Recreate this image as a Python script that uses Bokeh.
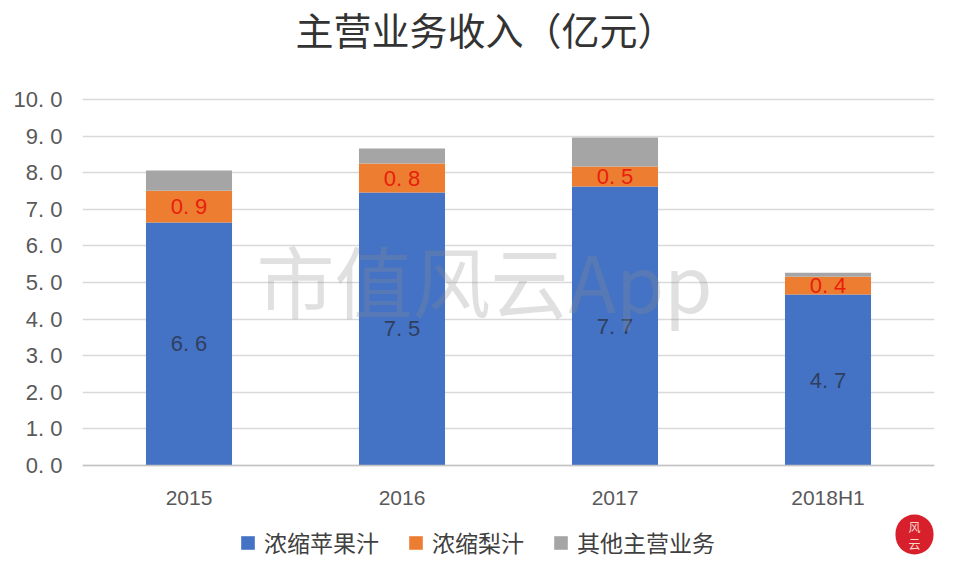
from bokeh.plotting import figure
from bokeh.models import ColumnDataSource, LabelSet, Label, Legend, LegendItem, FixedTicker, Title
from bokeh.core.properties import value
from bokeh.embed import file_html
from bokeh.resources import INLINE
import numpy as np

categories = ["2015", "2016", "2017", "2018H1"]
apple = [6.64, 7.46, 7.62, 4.67]
pear = [0.87, 0.79, 0.55, 0.49]
other = [0.55, 0.41, 0.79, 0.11]
apple_labels = ["6. 6", "7. 5", "7. 7", "4. 7"]
pear_labels = ["0. 9", "0. 8", "0. 5", "0. 4"]
y_ticks = [0, 1, 2, 3, 4, 5, 6, 7, 8, 9, 10]
y_tick_labels = ["0. 0", "1. 0", "2. 0", "3. 0", "4. 0", "5. 0", "6. 0", "7. 0", "8. 0", "9. 0", "10. 0"]
series_names = ["浓缩苹果汁", "浓缩梨汁", "其他主营业务"]
colors = ["#4472c4", "#ed7d31", "#a5a5a5"]

CJK = "Noto Sans CJK SC"

src = ColumnDataSource(data=dict(
    cat=categories, apple=apple, pear=pear, other=other,
    apple_mid=np.array(apple) / 2,
    pear_mid=np.array(apple) + np.array(pear) / 2,
    apple_txt=apple_labels, pear_txt=pear_labels,
))

p = figure(width=958, height=574, x_range=categories, y_range=(-2.978, 11.148),
           output_backend="svg", toolbar_location=None,
           min_border_left=82, min_border_right=24, min_border_top=57, min_border_bottom=0)
p.outline_line_color = None
p.title = Title(text="主营业务收入（亿元）", text_font=CJK, text_font_size="38px",
                text_font_style="normal", text_color="#333333", align="left", offset=213,
                vertical_align="top", standoff=0)

rs = p.vbar_stack(["apple", "pear", "other"], x="cat", width=0.404, source=src, color=colors, line_color=None)

p.xgrid.grid_line_color = None
p.ygrid.grid_line_color = "#d9d9d9"
p.ygrid.grid_line_width = 1.3
p.ygrid.ticker = FixedTicker(ticks=y_ticks)

p.yaxis.ticker = FixedTicker(ticks=y_ticks)
p.yaxis.major_label_overrides = {t: s for t, s in zip(y_ticks, y_tick_labels)}
p.yaxis.axis_line_color = None
p.yaxis.major_tick_line_color = None
p.yaxis.minor_tick_line_color = None
p.yaxis.major_label_text_font = "Liberation Sans"
p.yaxis.major_label_text_font_size = "22px"
p.yaxis.major_label_text_color = "#595959"
p.yaxis.major_label_standoff = 14

p.xaxis.fixed_location = 0
p.xaxis.axis_line_color = "#c4c4c4"
p.xaxis.axis_line_width = 1.3
p.xaxis.major_tick_line_color = None
p.xaxis.minor_tick_line_color = None
p.xaxis.major_label_text_font = "Liberation Sans"
p.xaxis.major_label_text_font_size = "21px"
p.xaxis.major_label_text_color = "#595959"
p.xaxis.major_label_standoff = 14

p.add_layout(LabelSet(x="cat", y="apple_mid", text="apple_txt", source=src, text_align="center",
                      text_baseline="middle", text_font=value("Liberation Sans"), text_font_size="22px",
                      text_color="#2f3f5f"))
p.add_layout(LabelSet(x="cat", y="pear_mid", text="pear_txt", source=src, text_align="center",
                      text_baseline="middle", text_font=value("Liberation Sans"), text_font_size="22px",
                      text_color="#e8200c"))

p.add_layout(Label(x=174, y=296, x_units="screen", y_units="screen", text="市值风云App",
                   text_font=CJK, text_font_size="78px", text_color="#8c8c8c", text_alpha=0.27,
                   text_baseline="middle"))

legend = Legend(items=[LegendItem(label=n, renderers=[r]) for n, r in zip(series_names, rs)],
                orientation="horizontal", location=(157, 15), background_fill_alpha=0,
                border_line_color=None, glyph_width=17, glyph_height=17, spacing=28,
                label_text_font=CJK, label_text_font_size="23px", label_text_color="#404040",
                label_standoff=8, padding=0, margin=0)
p.add_layout(legend, "center")

p.add_layout(Label(x=832, y=40, x_units="screen", y_units="screen", text="风\n云",
                   text_font=CJK, text_font_size="12px", text_color="#f6d6c8",
                   text_align="center", text_baseline="middle", text_line_height=1.0,
                   background_fill_color="#d8202c", padding=(13, 3), border_radius=20))

open("out.html", "w").write(file_html(p, INLINE))
